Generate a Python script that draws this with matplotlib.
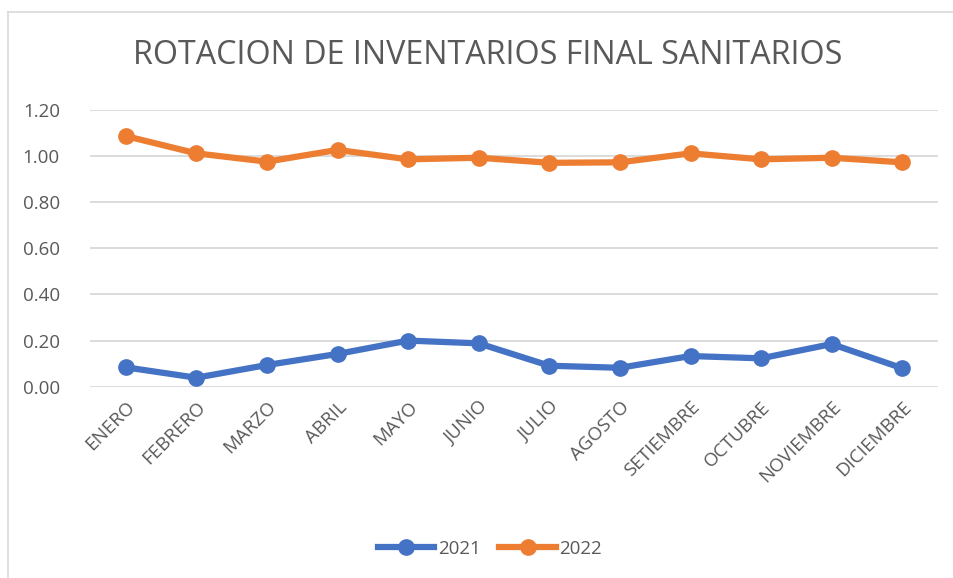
import matplotlib
matplotlib.use("Agg")
import matplotlib.pyplot as plt
from matplotlib.lines import Line2D

months = ["ENERO", "FEBRERO", "MARZO", "ABRIL", "MAYO", "JUNIO", "JULIO",
          "AGOSTO", "SETIEMBRE", "OCTUBRE", "NOVIEMBRE", "DICIEMBRE"]
rot_2021 = [0.084, 0.039, 0.094, 0.142, 0.200, 0.188, 0.091, 0.082, 0.133, 0.123, 0.185, 0.080]
rot_2022 = [1.087, 1.012, 0.976, 1.027, 0.986, 0.993, 0.971, 0.973, 1.012, 0.986, 0.993, 0.973]
y_ticks = [0.0, 0.2, 0.4, 0.6, 0.8, 1.0, 1.2]

plt.rcParams['font.family'] = ['Open Sans', 'DejaVu Sans']
TXT = "#595959"
BLUE = "#4472C4"
ORANGE = "#ED7D31"

W, H = 954, 578
fig = plt.figure(figsize=(W / 100, H / 100), dpi=100)
ax = fig.add_axes([90.4 / W, 1 - 386.7 / H, (937.6 - 90.4) / W, (386.7 - 110) / H])

x = list(range(len(months)))
ax.plot(x, rot_2021, color=BLUE, lw=4.5, marker="o", ms=11, solid_capstyle="round", label="2021", zorder=3)
ax.plot(x, rot_2022, color=ORANGE, lw=4.5, marker="o", ms=11, solid_capstyle="round", label="2022", zorder=3)

ax.set_xlim(-0.5, len(months) - 0.5)
ax.set_ylim(0, 1.2)
ax.set_yticks(y_ticks)
ax.set_yticklabels([f"{v:.2f}" for v in y_ticks], fontsize=13.5, color=TXT)
ax.set_xticks(x)
ax.set_xticklabels(months, rotation=45, ha="right", rotation_mode="anchor", fontsize=13.5, color=TXT)
ax.tick_params(axis="both", length=0)
ax.tick_params(axis="y", pad=22)
ax.tick_params(axis="x", pad=8)
for s in ax.spines.values():
    s.set_visible(False)
ax.grid(axis="y", color="#D9D9D9", lw=1.3)
ax.set_axisbelow(True)

fig.text(488 / W, 1 - 55 / H, "ROTACION DE INVENTARIOS FINAL SANITARIOS",
         ha="center", va="center", fontsize=23.2, color=TXT)

handles = [Line2D([], [], color=BLUE, lw=4.5, marker="o", ms=11),
           Line2D([], [], color=ORANGE, lw=4.5, marker="o", ms=11)]
fig.legend(handles, ["2021", "2022"], loc="center", bbox_to_anchor=(490 / W, 1 - 549 / H),
           ncol=2, frameon=False, fontsize=13.5, labelcolor=TXT, handlelength=3.0,
           columnspacing=1.0, handletextpad=0.2)

# chart frame
fig.add_artist(Line2D([8 / W, 8 / W], [0, 1 - 12 / H], color="#D9D9D9", lw=1.2))
fig.add_artist(Line2D([8 / W, 1], [1 - 12 / H, 1 - 12 / H], color="#D9D9D9", lw=1.2))

fig.savefig("out.png", dpi=100, facecolor="white")
